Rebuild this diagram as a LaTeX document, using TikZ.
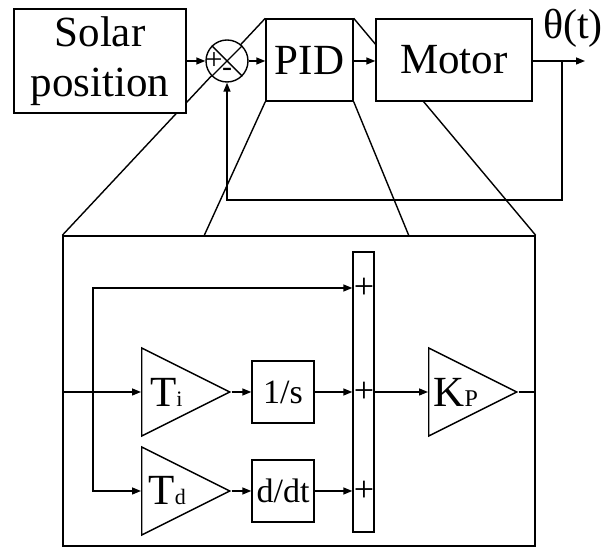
\documentclass[tikz,border=0pt]{standalone}
\usepackage{fontspec}
\setmainfont{Liberation Serif}
\usetikzlibrary{arrows.meta,positioning,shapes.geometric,backgrounds}

\begin{document}
\begin{tikzpicture}[x=1pt,y=1pt,line width=1.4pt,
   blk/.style={draw,fill=white,inner sep=0pt,align=center,
               font=\fontsize{43}{50}\selectfont},
   tri/.style={draw,fill=white,isosceles triangle,isosceles triangle stretches,
               minimum width=88pt,minimum height=88pt,inner sep=0pt,
               font=\fontsize{43}{43}\selectfont},
   arr/.style={-{Triangle[length=9pt,width=7pt]}},
   zm/.style={line width=1.4pt},
   sgn/.style={inner sep=0pt,font=\fontsize{36}{36}\selectfont}]
  \useasboundingbox (0,0) rectangle (608,548);
  % top loop
  \node[blk,minimum width=172pt,minimum height=104pt] (sol) at (100,487) {Solar\\position};
  \node[draw,fill=white,circle,minimum size=42pt,inner sep=0pt] (sum) at (227,487) {};
  \draw (sum.north west) -- (sum.south east) (sum.north east) -- (sum.south west);
  \node[sgn,font=\fontsize{30}{30}\selectfont] at (214,487) {+};
  \node[sgn,font=\fontsize{30}{30}\selectfont] at (227,476) {-};
  \node[blk,minimum width=87pt,minimum height=82pt] (pid) at (309.5,488) {PID};
  \node[blk,minimum width=156pt,minimum height=82pt] (mot) at (454,488) {Motor};
  \node[font=\fontsize{42}{42}\selectfont,inner sep=0pt] (th) at (573,520) {θ(t)};
  \coordinate (out) at (585,487);
  \coordinate (fb) at (562,487);
  \draw[arr] (sol.east |- sum) -- (sum.west);
  \draw[arr] (sum.east) -- (pid.west |- sum);
  \draw[arr] (pid.east |- sum) -- (mot.west |- sum);
  \draw[arr] (mot.east |- sum) -- (out);
  \draw[arr] (fb) -- ++(0,-139) -| (sum.south);

  % PID detail
  \node[draw,minimum width=472pt,minimum height=310pt,inner sep=0pt] (big) at (299,157) {};
  \node[tri,anchor=lower side] (ti) at (141,156) {T{\fontsize{22}{22}\selectfont i}};
  \node[tri,anchor=lower side] (td) at (141,57) {T{\fontsize{22}{22}\selectfont d}};
  \node[blk,minimum size=62pt,font=\fontsize{34}{34}\selectfont] (is) at (283,156) {1/s};
  \node[blk,minimum size=62pt,font=\fontsize{34}{34}\selectfont] (dd) at (283,57) {d/dt};
  \node[draw,fill=white,minimum width=21pt,minimum height=280pt,inner sep=0pt] (bar) at (363.5,156) {};
  \node[sgn] (p1) at (364,260) {+};
  \node[sgn] (p2) at (364,156) {+};
  \node[sgn] (p3) at (364,57) {+};
  \node[tri,anchor=lower side] (kp) at (428,156) {K{\fontsize{24}{24}\selectfont P}};
  \coordinate (in) at (big.west |- ti.lower side);
  \coordinate (br) at (93,156);
  \draw[arr] (in) -- (ti.lower side);
  \draw[arr] (br) |- (p1 -| bar.west);
  \draw[arr] (br) |- (td.lower side);
  \draw[arr] (ti.apex) -- (is.west);
  \draw[arr] (is.east) -- (p2 -| bar.west);
  \draw[arr] (td.apex) -- (dd.west);
  \draw[arr] (dd.east) -- (p3 -| bar.west);
  \draw[arr] (bar.east |- p2) -- (kp.lower side);
  \draw (kp.apex) -- (big.east |- kp.apex);

  % zoom lines
  \coordinate (zl) at ([xshift=142pt]big.north west);
  \coordinate (zr) at ([xshift=-127pt]big.north east);
  \begin{scope}[on background layer]
    \draw[zm] (big.north west) -- (pid.north west);
    \draw[zm] (zl) -- (pid.south west);
    \draw[zm] (zr) -- (pid.south east);
    \draw[zm] (big.north east) -- (pid.north east);
  \end{scope}
\end{tikzpicture}
\end{document}
